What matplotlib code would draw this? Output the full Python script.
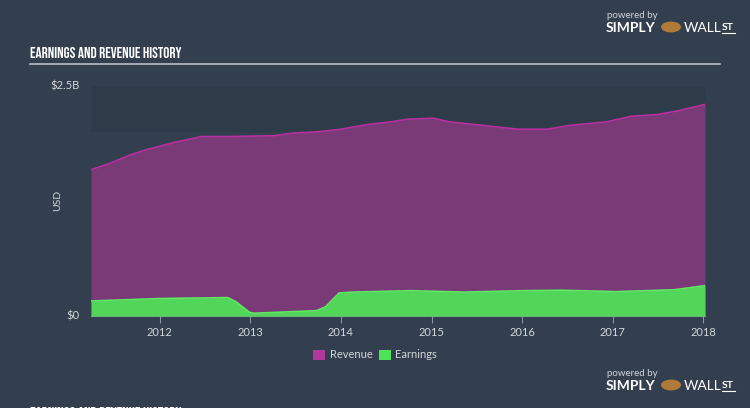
import numpy as np
import matplotlib
matplotlib.use("Agg")
import logging
logging.getLogger("matplotlib.font_manager").setLevel(logging.ERROR)
from matplotlib import pyplot as plt
from matplotlib.patches import Rectangle, Circle

# revenue history (USD billions)
rev_t = [2011.24, 2011.45, 2011.67, 2011.86, 2012.17, 2012.46, 2012.74, 2013.26,
         2013.49, 2013.72, 2014.0, 2014.28, 2014.55, 2014.74, 2015.02, 2015.2,
         2015.49, 2015.77, 2015.96, 2016.28, 2016.51, 2016.93, 2017.2, 2017.49,
         2017.72, 2018.02]
rev_v = [1.59, 1.66, 1.75, 1.81, 1.89, 1.95, 1.95, 1.96,
         1.99, 2.00, 2.03, 2.08, 2.11, 2.14, 2.15, 2.11,
         2.08, 2.05, 2.03, 2.03, 2.07, 2.11, 2.17, 2.19,
         2.23, 2.30]

# earnings history (USD billions)
earn_t = [2011.24, 2012.0, 2012.75, 2012.84, 2012.99, 2013.04, 2013.73, 2013.83,
          2013.98, 2014.13, 2014.77, 2015.36, 2016.0, 2016.44, 2017.04, 2017.68,
          2018.02]
earn_v = [0.163, 0.19, 0.20, 0.155, 0.04, 0.03, 0.058, 0.10,
          0.25, 0.26, 0.275, 0.26, 0.275, 0.28, 0.265, 0.285,
          0.33]

years = [2012, 2013, 2014, 2015, 2016, 2017, 2018]

bg = "#333f4e"
band = "#2e3b48"
purple_fill = "#7a3a78"
purple_line = "#b7309f"
green_fill = "#52d65a"
green_line = "#5fe864"
txt = "#d2d6db"

title_font = ["Bebas Neue", "Oswald", "Archivo Narrow", "DejaVu Sans"]
body_font = ["Lato", "DejaVu Sans"]
plt.rcParams["font.family"] = body_font

W, H = 750, 408
fig = plt.figure(figsize=(W / 100, H / 100), dpi=100, facecolor=bg)

def px(x, y):
    return x / W, 1 - y / H

# plot area
x0, x1, ytop, ybot = 91, 705, 86, 316
ax = fig.add_axes([x0 / W, 1 - ybot / H, (x1 - x0) / W, (ybot - ytop) / H])
ax.set_facecolor(bg)
ax.set_xlim(2011.24, 2018.02)
ax.set_ylim(0, 2.5)

# darker band at the top of the plot
ax.add_patch(Rectangle((2011.24, 2.0), 2018.02 - 2011.24, 0.5,
                       facecolor=band, edgecolor="none", zorder=0))

ax.fill_between(rev_t, 0, rev_v, color=purple_fill, lw=0, zorder=1)
ax.plot(rev_t, rev_v, color=purple_line, lw=1.2, zorder=2)
ax.fill_between(earn_t, 0, earn_v, color=green_fill, lw=0, zorder=3)
ax.plot(earn_t, earn_v, color=green_line, lw=1.2, zorder=4)

for s in ["top", "left", "right"]:
    ax.spines[s].set_visible(False)
ax.spines["bottom"].set_color("#8a929c")
ax.spines["bottom"].set_linewidth(0.8)

ax.set_xticks(years)
ax.set_xticklabels([str(y) for y in years])
ax.tick_params(axis="x", colors="#8a929c", labelcolor=txt, labelsize=8,
               length=5, width=0.8, pad=3)
ax.set_yticks([])

# y labels
fig.text(*px(80, 316), "$0", color=txt, fontsize=8, ha="right", va="center")
fig.text(*px(80, 86), "$2.5B", color=txt, fontsize=8, ha="right", va="center")
fig.text(*px(58, 200), "USD", color=txt, fontsize=7.5, ha="center", va="center",
         rotation=90)

# title and rule
fig.text(*px(30, 53), "EARNINGS AND REVENUE HISTORY", color="white",
         fontsize=11, fontweight="bold", family=title_font,
         ha="left", va="center")
fig.add_artist(plt.Line2D([30 / W, 720 / W], [1 - 63.5 / H, 1 - 63.5 / H],
                          color="#b8bec6", lw=1.2))
# cut-off repeat of the title at the bottom edge
fig.text(*px(30, 412), "EARNINGS AND REVENUE HISTORY", color="white",
         fontsize=11, fontweight="bold", family=title_font,
         ha="left", va="center")

# legend
fig.add_artist(Rectangle(px(313, 360), 12 / W, 10 / H, transform=fig.transFigure,
                         facecolor="#b03a9c", edgecolor="none"))
fig.text(*px(330, 355), "Revenue", color=txt, fontsize=8, ha="left", va="center")
fig.add_artist(Rectangle(px(379, 360), 12 / W, 10 / H, transform=fig.transFigure,
                         facecolor="#4fe35a", edgecolor="none"))
fig.text(*px(395, 355), "Earnings", color=txt, fontsize=8, ha="left", va="center")

# logos
def logo(y):
    fig.text(*px(607, y - 12), "powered by", color="#d0d4da", fontsize=7,
             ha="left", va="center")
    fig.text(*px(606, y + 1), "SIMPLY", color="white", fontsize=10,
             fontweight="bold", ha="left", va="center")
    fig.add_artist(Circle(px(671, y), 10 / W, transform=fig.transFigure,
                          facecolor="#b07a3a", edgecolor="none"))
    fig.text(*px(684, y + 1), "WALL", color="white", fontsize=10,
             ha="left", va="center")
    fig.text(*px(722, y), "ST", color="white", fontsize=7.5,
             fontweight="bold", ha="left", va="center")
    fig.add_artist(plt.Line2D([722 / W, 735 / W], [1 - (y + 6) / H] * 2,
                              color="white", lw=0.8))

logo(27)
logo(385)

fig.savefig("out.png", dpi=100, facecolor=bg)
